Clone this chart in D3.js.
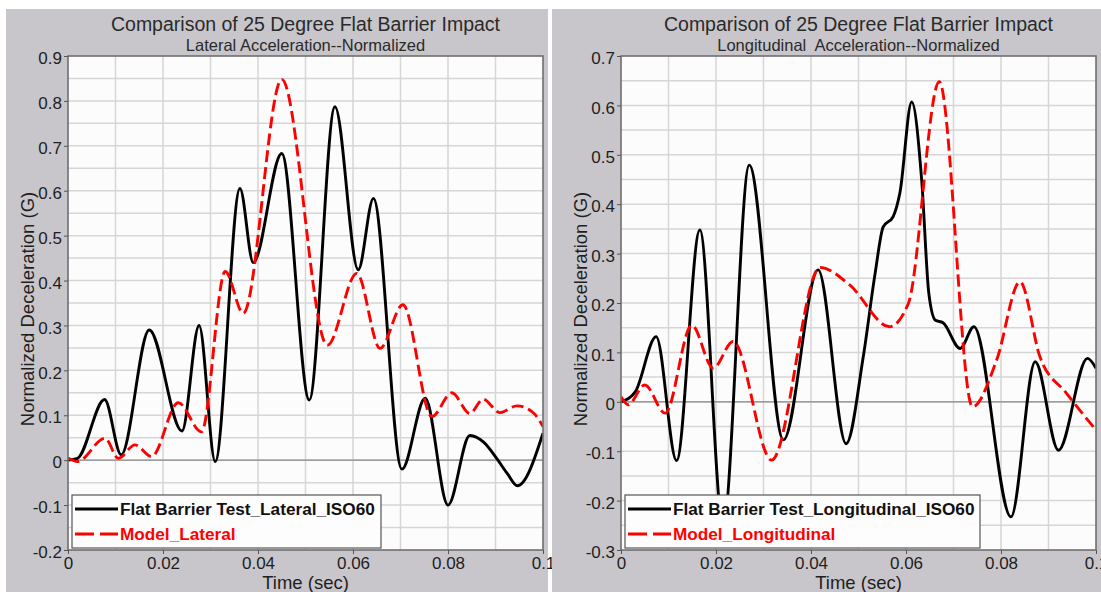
<!DOCTYPE html>
<html>
<head>
<meta charset="utf-8">
<script src="https://cdn.jsdelivr.net/npm/d3@7"></script>
<style>
  body { margin: 0; background: #fff; }
  svg { display: block; }
  text { font-family: "Liberation Sans", Arial, Helvetica, sans-serif; }
</style>
</head>
<body>
<svg id="chart" width="1101" height="592"></svg>
<script>
// ---- chart text ----
const chartTitle = "Comparison of 25 Degree Flat Barrier Impact";
const latSubtitle = "Lateral Acceleration--Normalized";
const lonSubtitle = "Longitudinal  Acceleration--Normalized";
const xAxisTitle = "Time (sec)";
const yAxisTitle = "Normalized Deceleration (G)";
const latLegend = ["Flat Barrier Test_Lateral_ISO60", "Model_Lateral"];
const lonLegend = ["Flat Barrier Test_Longitudinal_ISO60", "Model_Longitudinal"];

// ---- tick labels ----
const xTicks = [0, 0.02, 0.04, 0.06, 0.08, 0.1];
const latYTicks = [-0.2, -0.1, 0, 0.1, 0.2, 0.3, 0.4, 0.5, 0.6, 0.7, 0.8, 0.9];
const lonYTicks = [-0.3, -0.2, -0.1, 0, 0.1, 0.2, 0.3, 0.4, 0.5, 0.6, 0.7];

// ---- lateral: flat barrier test (sec, G) ----
const testLatT = [0, 0.002, 0.0077, 0.0112, 0.0171, 0.024, 0.0276, 0.031, 0.0362, 0.039, 0.045,
  0.0508, 0.0562, 0.0611, 0.0643, 0.0703, 0.0752, 0.080, 0.0846, 0.0875, 0.0905, 0.0925, 0.0946, 0.1];
const testLatV = [0.0, 0.004, 0.135, 0.012, 0.29, 0.065, 0.30, -0.003, 0.605, 0.44, 0.683,
  0.134, 0.787, 0.424, 0.583, -0.02, 0.138, -0.10, 0.055, 0.04, 0.0, -0.03, -0.057, 0.06];

// ---- lateral: model ----
const modelLatT = [0, 0.002, 0.0078, 0.0106, 0.0141, 0.0176, 0.0232, 0.0281, 0.0331, 0.0369, 0.045,
  0.0546, 0.0608, 0.0657, 0.0705, 0.0766, 0.0808, 0.0846, 0.0874, 0.0909, 0.0945, 0.098, 0.1];
const modelLatV = [0.005, -0.003, 0.049, 0.004, 0.034, 0.008, 0.128, 0.063, 0.42, 0.327, 0.848,
  0.256, 0.416, 0.249, 0.346, 0.097, 0.150, 0.104, 0.136, 0.106, 0.121, 0.105, 0.075];

// ---- longitudinal: flat barrier test ----
const testLonT = [0, 0.003, 0.0074, 0.0117, 0.0166, 0.0215, 0.027, 0.0342, 0.0415, 0.0474, 0.051,
  0.0535, 0.0552, 0.0573, 0.0587, 0.0612, 0.0633, 0.0648, 0.0662, 0.0678, 0.0714, 0.0743,
  0.0821, 0.0872, 0.0921, 0.0982, 0.1];
const testLonV = [0.0, 0.02, 0.132, -0.119, 0.348, -0.25, 0.479, -0.077, 0.267, -0.085, 0.091,
  0.26, 0.354, 0.375, 0.422, 0.607, 0.449, 0.22, 0.165, 0.16, 0.108, 0.152,
  -0.233, 0.081, -0.098, 0.088, 0.068];

// ---- longitudinal: model ----
const modelLonT = [0, 0.0015, 0.005, 0.0093, 0.0149, 0.0194, 0.0236, 0.0317, 0.0419, 0.0482, 0.0565,
  0.0605, 0.067, 0.074, 0.0791, 0.084, 0.0882, 0.0938, 0.1];
const modelLonV = [0.01, -0.006, 0.034, -0.023, 0.155, 0.068, 0.122, -0.118, 0.272, 0.236, 0.152,
  0.199, 0.648, -0.01, 0.085, 0.243, 0.091, 0.017, -0.057];

const svg = d3.select("#chart");
svg.append("rect").attr("width", 1101).attr("height", 592).attr("fill", "#ffffff");

const fmt = d => String(+d.toFixed(2));

function drawPanel(cfg) {
  const g = svg.append("g");
  const top = 56, bottom = 550;

  // grey panel background
  g.append("rect").attr("x", cfg.bgX).attr("y", 9).attr("width", cfg.bgW).attr("height", 592 - 9)
    .attr("fill", "#c8c6ca");

  const x = d3.scaleLinear().domain([0, 0.1]).range([cfg.left, cfg.right]);
  const y = d3.scaleLinear().domain([cfg.yTicks[0], cfg.yTicks[cfg.yTicks.length - 1]]).range([bottom, top]);

  // plot area
  g.append("rect").attr("x", cfg.left).attr("y", top)
    .attr("width", cfg.right - cfg.left).attr("height", bottom - top).attr("fill", "#fbfcfb");

  // grid: every 0.01 s and every 0.05 G
  const xGrid = d3.range(1, 10).map(i => i / 100);
  const yLo = Math.round(y.domain()[0] * 20), yHi = Math.round(y.domain()[1] * 20);
  const yGrid = d3.range(yLo + 1, yHi).map(i => i / 20);
  g.append("g").selectAll("line").data(xGrid).join("line")
    .attr("x1", d => x(d)).attr("x2", d => x(d)).attr("y1", top).attr("y2", bottom)
    .attr("stroke", "#d6d6d6").attr("stroke-width", 1.5);
  g.append("g").selectAll("line").data(yGrid).join("line")
    .attr("x1", cfg.left).attr("x2", cfg.right).attr("y1", d => y(d)).attr("y2", d => y(d))
    .attr("stroke", "#d6d6d6").attr("stroke-width", 1.5);
  // zero line
  g.append("line").attr("x1", cfg.left).attr("x2", cfg.right).attr("y1", y(0)).attr("y2", y(0))
    .attr("stroke", "#8a8a8a").attr("stroke-width", 1.2);

  // curves
  const clipId = "clip-" + cfg.id;
  svg.append("clipPath").attr("id", clipId).append("rect")
    .attr("x", cfg.left).attr("y", top).attr("width", cfg.right - cfg.left).attr("height", bottom - top);
  const line = d3.line().x(d => x(d[0])).y(d => y(d[1])).curve(d3.curveMonotoneX);
  const curves = g.append("g").attr("clip-path", `url(#${clipId})`);
  curves.append("path").datum(d3.zip(cfg.testT, cfg.testV)).attr("d", line)
    .attr("fill", "none").attr("stroke", "#000").attr("stroke-width", 2.9)
    .attr("stroke-linejoin", "round");
  curves.append("path").datum(d3.zip(cfg.modelT, cfg.modelV)).attr("d", line)
    .attr("fill", "none").attr("stroke", "#ff0000").attr("stroke-width", 2.9)
    .attr("stroke-dasharray", "12,5");

  // frame
  g.append("rect").attr("x", cfg.left).attr("y", top)
    .attr("width", cfg.right - cfg.left).attr("height", bottom - top)
    .attr("fill", "none").attr("stroke", "#6f6f6f").attr("stroke-width", 1.6);

  // axes
  const yAxis = d3.axisLeft(y).tickValues(cfg.yTicks).tickFormat(fmt).tickSize(4).tickPadding(2);
  const ya = g.append("g").attr("transform", `translate(${cfg.left},0)`).call(yAxis);
  ya.select(".domain").remove();
  ya.selectAll(".tick line").attr("stroke", "#555");
  ya.selectAll(".tick text").attr("font-size", 17).attr("fill", "#1e1e1e")
    .attr("dy", "0.45em").style("font-family", '"Liberation Sans", Arial, sans-serif');

  const xAxis = d3.axisBottom(x).tickValues(xTicks).tickFormat(fmt).tickSize(4).tickPadding(3);
  const xa = g.append("g").attr("transform", `translate(0,${bottom})`).call(xAxis);
  xa.select(".domain").remove();
  xa.selectAll(".tick line").attr("stroke", "#555");
  xa.selectAll(".tick text").attr("font-size", 17).attr("fill", "#1e1e1e")
    .style("font-family", '"Liberation Sans", Arial, sans-serif');

  const cx = (cfg.left + cfg.right) / 2;
  // titles
  g.append("text").attr("x", cx).attr("y", 31).attr("text-anchor", "middle")
    .attr("font-size", 19.5).attr("fill", "#2a2a2a").text(chartTitle);
  g.append("text").attr("x", cx).attr("y", 51).attr("text-anchor", "middle")
    .attr("font-size", 16.5).attr("fill", "#2a2a2a").style("white-space", "pre").text(cfg.subtitle);
  g.append("text").attr("x", cx).attr("y", 589).attr("text-anchor", "middle")
    .attr("font-size", 18.5).attr("fill", "#1e1e1e").text(xAxisTitle);
  g.append("text").attr("transform", `translate(${cfg.yTitleX},309) rotate(-90)`)
    .attr("text-anchor", "middle").attr("font-size", 18.5).attr("fill", "#1e1e1e").text(yAxisTitle);

  // legend
  const lg = g.append("g");
  lg.append("rect").attr("x", cfg.left + 4).attr("y", 495).attr("width", cfg.legendW).attr("height", 53)
    .attr("fill", "#fdfdfd").attr("stroke", "#555").attr("stroke-width", 1.2);
  const sx0 = cfg.left + 7, sx1 = cfg.left + 50;
  lg.append("line").attr("x1", sx0).attr("x2", sx1).attr("y1", 509).attr("y2", 509)
    .attr("stroke", "#000").attr("stroke-width", 2.9);
  lg.append("line").attr("x1", sx0).attr("x2", sx1).attr("y1", 534).attr("y2", 534)
    .attr("stroke", "#ff0000").attr("stroke-width", 2.9).attr("stroke-dasharray", "19,6");
  lg.append("text").attr("x", sx1 + 2).attr("y", 515).attr("font-size", 17.2).attr("font-weight", "bold")
    .attr("fill", "#111").text(cfg.legend[0]);
  lg.append("text").attr("x", sx1 + 2).attr("y", 540).attr("font-size", 17.2).attr("font-weight", "bold")
    .attr("fill", "#ff0000").text(cfg.legend[1]);
}

drawPanel({
  id: "lat", bgX: 6, bgW: 542, left: 68, right: 543, yTitleX: 34,
  yTicks: latYTicks, subtitle: latSubtitle, legend: latLegend, legendW: 309,
  testT: testLatT, testV: testLatV, modelT: modelLatT, modelV: modelLatV
});
drawPanel({
  id: "lon", bgX: 552, bgW: 549, left: 621, right: 1096, yTitleX: 587,
  yTicks: lonYTicks, subtitle: lonSubtitle, legend: lonLegend, legendW: 355,
  testT: testLonT, testV: testLonV, modelT: modelLonT, modelV: modelLonV
});
</script>
</body>
</html>
